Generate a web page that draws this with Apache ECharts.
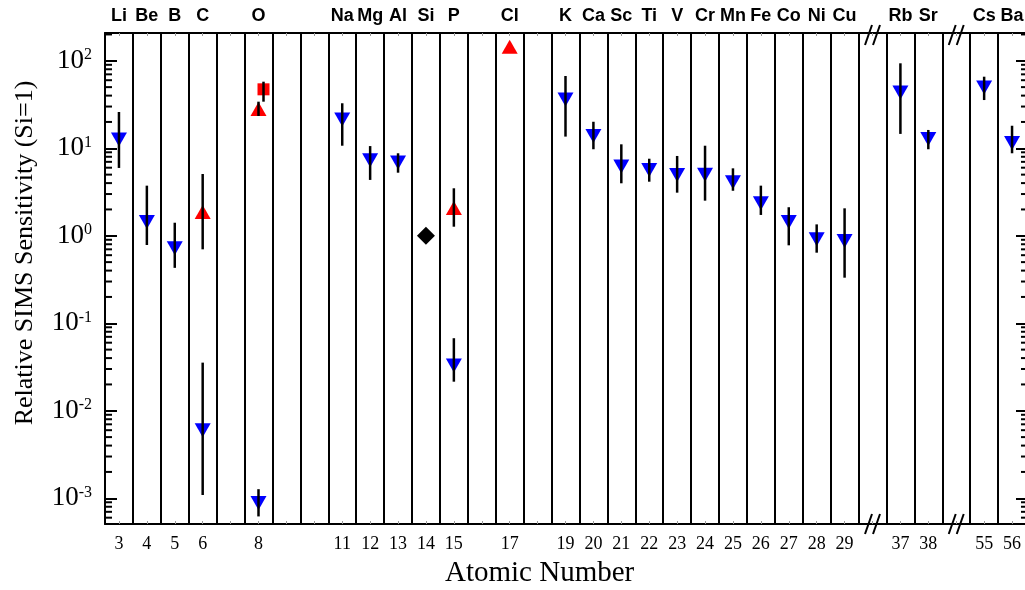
<!DOCTYPE html>
<html>
<head>
<meta charset="utf-8">
<script src="https://cdn.jsdelivr.net/npm/echarts@6/dist/echarts.min.js"></script>
<style>
  html, body { margin: 0; padding: 0; background: #fff; }
  #chart { width: 1025px; height: 590px; }
</style>
</head>
<body>
<div id="chart"></div>
<script>
// Column slots along the x axis: atomic numbers, with blank columns and two axis breaks
const atomicNumbers = ['3','4','5','6','7','8','9','10','11','12','13','14','15','16','17','18','19','20','21','22','23','24','25','26','27','28','29','brk1','37','38','brk2','55','56'];
const tickLabels = ['3','4','5','6','','8','','','11','12','13','14','15','','17','','19','20','21','22','23','24','25','26','27','28','29','','37','38','','55','56'];
const elementSymbols = ['Li','Be','B','C','','O','','','Na','Mg','Al','Si','P','','Cl','','K','Ca','Sc','Ti','V','Cr','Mn','Fe','Co','Ni','Cu','','Rb','Sr','','Cs','Ba'];
const axisBreaks = ['brk1', 'brk2'];

// Blue markers (downward triangles) with error ranges
const blueZ     = ['3','4','5','6','8','11','12','13','15','19','20','21','22','23','24','25','26','27','28','29','37','38','55','56'];
const blueValue = [12.6, 1.44, 0.72, 0.0060, 0.00088, 21.3, 7.3, 6.9, 0.033, 36, 13.8, 6.2, 5.65, 4.95, 5.0, 4.1, 2.35, 1.44, 0.91, 0.87, 43.5, 12.8, 49.5, 11.5];
const blueLow   = [5.96, 0.785, 0.43, 0.00109, 0.00062, 10.7, 4.35, 5.26, 0.0215, 13.6, 9.75, 3.98, 4.15, 3.11, 2.52, 3.27, 1.73, 0.778, 0.641, 0.332, 14.6, 9.75, 35.6, 8.77];
const blueHigh  = [26, 3.74, 1.41, 0.0355, 0.00127, 32.7, 10.6, 8.77, 0.0675, 67, 20.1, 11.1, 7.6, 8.17, 10.7, 5.9, 3.74, 2.12, 1.35, 2.06, 93.6, 16.2, 65.8, 18.1];

// Red upward triangles
const redTriZ     = ['6','8','15','17'];
const redTriValue = [1.87, 28.1, 2.08, 145];
const redTriLow   = [0.70, 23.4, 1.27, null];
const redTriHigh  = [5.08, 34.1, 3.49, null];

// Red square
const redSqZ     = ['8'];
const redSqValue = [47.2];
const redSqLow   = [34.1];
const redSqHigh  = [57.7];

// Reference element (Si = 1)
const refZ     = ['14'];
const refValue = [1];

// Vertical range of the log axis
const yMin = 5.08e-4;
const yMax = 207.8;
const minorMultipliers = [2, 3, 4, 5, 6, 7, 8, 9];
const decades = [-4, -3, -2, -1, 0, 1, 2];

const SERIF = "'Liberation Serif', 'Times New Roman', serif";
const SANS = "'Liberation Sans', Arial, sans-serif";

function points(zs, vals) {
  return zs.map((z, i) => [z, vals[i]]);
}
function ranges(zs, lo, hi) {
  const out = [];
  zs.forEach((z, i) => { if (lo[i] != null && hi[i] != null) out.push([z, lo[i], hi[i]]); });
  return out;
}
function errorBar(offsetX) {
  return function (params, api) {
    const a = api.coord([api.value(0), api.value(1)]);
    const b = api.coord([api.value(0), api.value(2)]);
    return {
      type: 'line',
      shape: { x1: a[0] + offsetX, y1: a[1], x2: b[0] + offsetX, y2: b[1] },
      style: { stroke: '#000', lineWidth: 2.5 }
    };
  };
}

// Log minor ticks (2..9 x 10^k) on both vertical frame edges
const minorData = [];
decades.forEach(k => minorMultipliers.forEach(m => {
  const v = m * Math.pow(10, k);
  if (v > yMin && v < yMax) minorData.push([atomicNumbers[0], v]);
}));

function supLabel(value) {
  const e = Math.log10(value);
  const r = Math.round(e);
  if (Math.abs(e - r) > 1e-6) return '';
  return '{b|10}{s|' + r + '}';
}

const chart = echarts.init(document.getElementById('chart'));
chart.setOption({
  animation: false,
  backgroundColor: '#fff',
  grid: { left: 105, top: 33, width: 921, height: 491, containLabel: false, outerBoundsMode: 'none' },
  xAxis: [
    {
      type: 'category',
      data: atomicNumbers,
      position: 'bottom',
      boundaryGap: true,
      axisLine: { show: true, lineStyle: { color: '#000', width: 2 } },
      axisTick: { show: true, alignWithLabel: true, inside: true, length: 3, lineStyle: { color: '#999', width: 1 } },
      axisLabel: {
        interval: 0, margin: 11, color: '#000', fontFamily: SERIF, fontSize: 18,
        formatter: (v, i) => tickLabels[i]
      },
      splitLine: { show: true, interval: 0, lineStyle: { color: '#000', width: 2 } }
    },
    {
      type: 'category',
      data: atomicNumbers,
      position: 'top',
      boundaryGap: true,
      axisLine: { show: true, lineStyle: { color: '#000', width: 2 } },
      axisTick: { show: true, alignWithLabel: true, inside: true, length: 3, lineStyle: { color: '#999', width: 1 } },
      axisLabel: {
        interval: 0, margin: 8, color: '#000', fontFamily: SANS, fontSize: 18, fontWeight: 'bold',
        formatter: (v, i) => elementSymbols[i]
      },
      splitLine: { show: false }
    }
  ],
  yAxis: [
    {
      type: 'log',
      min: yMin,
      max: yMax,
      position: 'left',
      axisLine: { show: true, lineStyle: { color: '#000', width: 2 } },
      axisTick: { show: true, inside: true, length: 12, lineStyle: { color: '#000', width: 2 } },
      axisLabel: {
        margin: 13, showMinLabel: false, showMaxLabel: false,
        formatter: supLabel,
        rich: {
          b: { fontFamily: SERIF, fontSize: 27, color: '#000', lineHeight: 27, verticalAlign: 'bottom' },
          s: { fontFamily: SERIF, fontSize: 16, color: '#000', lineHeight: 16, verticalAlign: 'top' }
        }
      },
      splitLine: { show: false }
    },
    {
      type: 'log',
      min: yMin,
      max: yMax,
      position: 'right',
      axisLine: { show: true, lineStyle: { color: '#000', width: 2 } },
      axisTick: { show: true, inside: true, length: 10, lineStyle: { color: '#000', width: 2 } },
      axisLabel: { show: false },
      splitLine: { show: false }
    }
  ],
  graphic: [
    {
      type: 'text', left: 445, top: 559,
      style: { text: 'Atomic Number', font: '29px ' + SERIF, fill: '#000' }
    },
    {
      type: 'text', x: 25, y: 253, rotation: Math.PI / 2,
      style: {
        text: 'Relative SIMS Sensitivity (Si=1)', font: '26px ' + SERIF, fill: '#000',
        align: 'center', verticalAlign: 'middle'
      }
    }
  ],
  series: [
    {
      name: 'minor ticks',
      type: 'custom',
      silent: true,
      clip: false,
      data: minorData,
      encode: { x: 0, y: 1 },
      renderItem: (params, api) => {
        const y = api.coord([0, api.value(1)])[1];
        const r = params.coordSys;
        return {
          type: 'group',
          children: [
            { type: 'line', shape: { x1: r.x, y1: y, x2: r.x + 7, y2: y }, style: { stroke: '#000', lineWidth: 2 } },
            { type: 'line', shape: { x1: r.x + r.width, y1: y, x2: r.x + r.width - 5, y2: y }, style: { stroke: '#000', lineWidth: 2 } }
          ]
        };
      },
      z: 3
    },
    {
      name: 'axis breaks',
      type: 'custom',
      silent: true,
      clip: false,
      data: axisBreaks.map(b => [b, 1]),
      encode: { x: 0, y: 1 },
      renderItem: (params, api) => {
        const x = api.coord([api.value(0), 1])[0];
        const r = params.coordSys;
        const kids = [];
        [r.y + 2, r.y + r.height].forEach(cy => {
          [-4, 4].forEach(dx => {
            kids.push({ type: 'line', shape: { x1: x + dx - 3.5, y1: cy + 10, x2: x + dx + 3.5, y2: cy - 10 }, style: { stroke: '#000', lineWidth: 2 } });
          });
        });
        return { type: 'group', children: kids };
      },
      z: 6
    },
    {
      name: 'blue',
      type: 'scatter',
      data: points(blueZ, blueValue),
      symbol: 'triangle',
      symbolRotate: 180,
      symbolSize: [16, 14],
      itemStyle: { color: '#0000ff', opacity: 1 },
      z: 4
    },
    {
      name: 'red triangle',
      type: 'scatter',
      data: points(redTriZ, redTriValue),
      symbol: 'triangle',
      symbolSize: [16, 14],
      itemStyle: { color: '#ff0000', opacity: 1 },
      z: 4
    },
    {
      name: 'red square',
      type: 'scatter',
      data: points(redSqZ, redSqValue),
      symbol: 'rect',
      symbolSize: [12, 12],
      symbolOffset: [5, 0],
      itemStyle: { color: '#ff0000', opacity: 1 },
      z: 4
    },
    {
      name: 'Si',
      type: 'scatter',
      data: points(refZ, refValue),
      symbol: 'diamond',
      symbolSize: [18, 18],
      itemStyle: { color: '#000', opacity: 1 },
      z: 4
    },
    {
      name: 'blue error',
      type: 'custom',
      silent: true,
      data: ranges(blueZ, blueLow, blueHigh),
      encode: { x: 0, y: [1, 2] },
      renderItem: errorBar(0),
      z: 5
    },
    {
      name: 'red triangle error',
      type: 'custom',
      silent: true,
      data: ranges(redTriZ, redTriLow, redTriHigh),
      encode: { x: 0, y: [1, 2] },
      renderItem: errorBar(0),
      z: 5
    },
    {
      name: 'red square error',
      type: 'custom',
      silent: true,
      data: ranges(redSqZ, redSqLow, redSqHigh),
      encode: { x: 0, y: [1, 2] },
      renderItem: errorBar(5),
      z: 5
    }
  ]
});
</script>
</body>
</html>
